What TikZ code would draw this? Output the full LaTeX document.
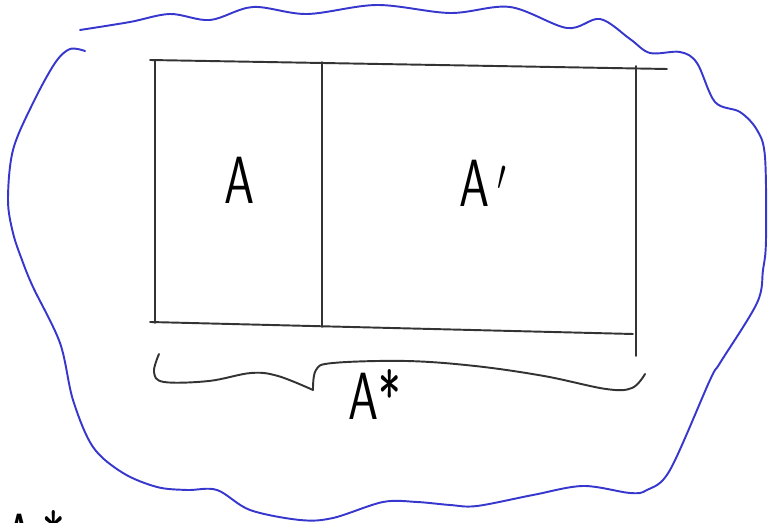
\documentclass[tikz,border=0pt]{standalone}
\usepackage{amsmath}
\usepackage{xcolor}
\usepackage{tikz}
\usetikzlibrary{calc}
\definecolor{penna}{RGB}{55,55,205}

\begin{document}
\begin{tikzpicture}[x=0.02cm,y=-0.02cm,
  matita/.style={black!80,line width=1.1pt,line cap=round,line join=round},
  bordo/.style={penna,line width=1.1pt,line cap=round},
  lettera/.style={font=\fontsize{38}{40}\selectfont\sffamily,xscale=0.72,inner sep=0pt}]
  \useasboundingbox (0,0) rectangle (769,523);
  \clip (0,0) rectangle (769,523);
  % contorno blu
  \draw[bordo] plot[smooth,tension=0.55] coordinates {
    (80,30) (130,22) (170,14) (210,20) (253,7) (307,14) (377,5) (450,13)
    (510,7) (567,28) (600,19) (630,39) (650,53) (680,52) (697,63) (715,102)
    (740,112) (757,130) (765,157) (766,240) (763,270) (757,303) (720,363)
    (710,380) (670,470) (647,490) (630,493) (583,486) (533,495) (477,506)
    (450,505) (417,502) (383,502) (333,518) (300,520) (250,510) (217,490)
    (187,490) (157,487) (123,473) (93,447) (73,400) (60,343) (33,287)
    (22,260) (13,233) (8,200) (13,150) (33,103) (55,63) (70,49) (85,51)};
  % rettangolo
  \draw[matita] (150,60) -- (667,69);
  \draw[matita] (150,322) -- (633,334);
  \draw[matita] (155,60) -- (155,323);
  \draw[matita] (322,62) -- (322,327);
  \draw[matita] (636,66) -- (636,356);
  \node[lettera] (a) at (240,180) {A};
  \node[lettera] (a1) at (483,183) {A\,$'$};
  % graffa
  \draw[matita] plot[smooth,tension=0.6] coordinates {
    (159,354) (154,372) (164,382) (209,381) (251,373) (278,376) (313,390)};
  \draw[matita] plot[smooth,tension=0.6] coordinates {
    (313,390) (316,370) (333,363) (406,361) (475,366) (544,376) (606,389)
    (632,388) (645,374)};
  \node[lettera] (astar) at (375,395) {A*};
  % in basso a sinistra (tagliato dal bordo)
  \node[lettera,anchor=north west] (astar2) at (4,510) {A\,*};
\end{tikzpicture}
\end{document}
